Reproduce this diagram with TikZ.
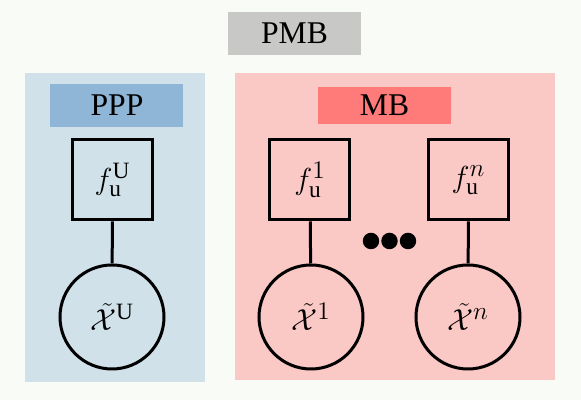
\documentclass[tikz,border=0pt]{standalone}
\usepackage{fontspec}
\setmainfont{Liberation Serif}
\usepackage{xcolor}
\usepackage{amsmath}
\usepackage{amsfonts}
\usepackage{tikz}

\definecolor{bgwhite}{HTML}{F9FBF7}
\definecolor{pmbgray}{HTML}{C8C9C6}
\definecolor{pppback}{HTML}{D0E1EA}
\definecolor{ppplabel}{HTML}{8FB6D6}
\definecolor{mbback}{HTML}{FAC8C5}
\definecolor{mblabel}{HTML}{FF7B79}

\begin{document}
\begin{tikzpicture}[
    tag/.style={draw=none, minimum width=2.66cm, minimum height=0.8cm, inner sep=0pt, font=\fontsize{18}{21}\selectfont},
    factor/.style={draw, line width=0.06cm, minimum size=1.6cm, inner sep=0pt, font=\fontsize{19}{22}\selectfont},
    var/.style={draw, circle, line width=0.06cm, minimum size=2.08cm, inner sep=0pt, font=\fontsize{19}{22}\selectfont},
    link/.style={line width=0.06cm}
  ]
             \fill[bgwhite] (0,0) rectangle (11.62,8);
             \useasboundingbox (0,0) rectangle (11.62,8);

             % groups
             \fill[pppback] (0.5,0.36) rectangle (4.1,6.54);
             \fill[mbback] (4.7,0.4) rectangle (11.1,6.54);

             \node[tag, fill=pmbgray, minimum height=0.86cm] (pmb) at (5.89, 7.33) {PMB};
             \node[tag, fill=ppplabel, minimum height=0.86cm] (ppp) at (2.34, 5.89) {PPP};
             \node[tag, fill=mblabel, minimum height=0.74cm] (mb) at (7.69, 5.89) {MB};

             % factors
             \node[factor] (fU) at (2.25, 4.4) {$f_{\mathrm{u}}^{\mathrm{U}}$};
             \node[factor] (f1) at (6.2, 4.4) {$f_{\mathrm{u}}^{1}$};
             \node[factor] (fn) at (9.37, 4.4) {$f_{\mathrm{u}}^{n}$};

             % variables
             \node[var] (xU) at (2.24, 1.66) {$\tilde{\mathcal{X}}^{\mathrm{U}}$};
             \node[var] (x1) at (6.22, 1.66) {$\tilde{\mathcal{X}}^{1}$};
             \node[var] (xn) at (9.36, 1.66) {$\tilde{\mathcal{X}}^{n}$};

             \draw[link] (fU) -- (xU);
             \draw[link] (f1) -- (x1);
             \draw[link] (fn) -- (xn);

             \foreach \x in {7.42, 7.79, 8.16}
               \fill (\x, 3.18) circle (0.165);

             \end{tikzpicture}
\end{document}
